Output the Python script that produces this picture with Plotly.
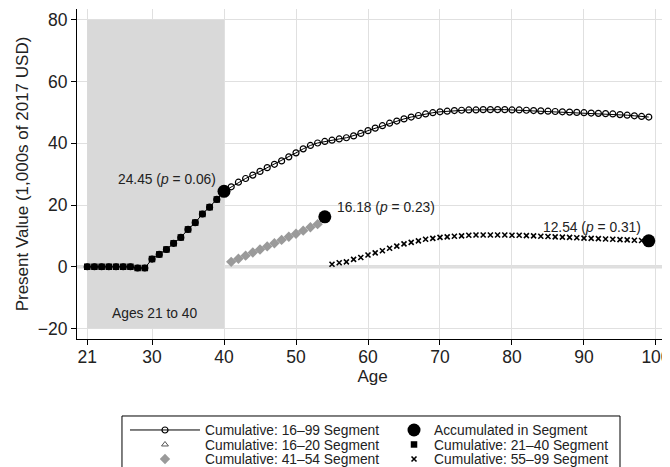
import plotly.graph_objects as go

# ---------------- data ----------------
ages_16_20 = [16, 17, 18, 19, 20]
seg_16_20 = [None, None, None, None, None]  # no visible marks in the picture

ages_21_40 = list(range(21, 41))
seg_21_40 = [0, 0, 0, 0, 0, 0, 0, -0.4, -0.4, 2.5, 4.0, 5.6, 7.6, 9.5, 12.1,
             14.3, 17.1, 19.3, 21.8, 24.45]

ages_41_54 = list(range(41, 55))
seg_41_54 = [1.6, 2.6, 3.6, 4.6, 5.6, 6.6, 7.6, 8.7, 9.7, 10.7, 11.7, 12.8,
             13.8, 16.18]

ages_55_99 = list(range(55, 100))
seg_55_99 = [0.8, 1.3, 1.6, 2.4, 3.0, 3.8, 4.5, 5.2, 6.0, 6.7, 7.4, 7.9, 8.4,
             8.9, 9.2, 9.5, 9.7, 9.9, 10.0, 10.2, 10.3, 10.3, 10.3, 10.3, 10.3,
             10.2, 10.2, 10.1, 10.0, 9.9, 9.8, 9.7, 9.6, 9.5, 9.4, 9.3, 9.2,
             9.1, 9.0, 8.9, 8.8, 8.7, 8.6, 8.5, 8.4]

ages_cum = list(range(21, 100))
cum_16_99 = seg_21_40 + [
    25.9, 27.4, 28.6, 29.7, 30.9, 32.1, 33.2, 34.3, 35.6, 36.9, 38.2, 39.3,
    40.1, 40.6, 41.0, 41.4, 41.8, 42.4, 43.2, 44.1, 44.9, 45.7, 46.5, 47.2,
    47.9, 48.5, 49.0, 49.5, 49.9, 50.2, 50.4, 50.6, 50.7, 50.8, 50.8, 50.9,
    50.9, 50.9, 50.9, 50.8, 50.8, 50.7, 50.6, 50.5, 50.4, 50.3, 50.2, 50.1,
    50.0, 49.9, 49.8, 49.7, 49.6, 49.5, 49.3, 49.1, 48.9, 48.7, 48.5]

accum_ages = [40, 54, 99]
accum_vals = [24.45, 16.18, 8.4]
accum_labels = ["24.45 (<i>p</i> = 0.06)", "16.18 (<i>p</i> = 0.23)",
                "12.54 (<i>p</i> = 0.31)"]
label_x = [39.2, 55.4, 98.2]
label_y = [28.4, 19.1, 12.8]
label_anchor = ["right", "left", "right"]

x_ticks = [21, 30, 40, 50, 60, 70, 80, 90, 100]
y_ticks = [-20, 0, 20, 40, 60, 80]

FONT = "Liberation Sans, Arial, Helvetica, sans-serif"
TXT = "#222222"

fig = go.Figure()

fig.add_trace(go.Scatter(
    x=ages_cum, y=cum_16_99, mode="lines+markers",
    name="Cumulative: 16\u201399 Segment", legend="legend",
    line=dict(color="black", width=1),
    marker=dict(symbol="circle-open", size=6, color="black",
                line=dict(width=1.2, color="black"))))
fig.add_trace(go.Scatter(
    x=ages_16_20, y=seg_16_20, mode="markers",
    name="Cumulative: 16\u201320 Segment", legend="legend3",
    marker=dict(symbol="triangle-up-open", size=6, color="#555555",
                line=dict(width=1, color="#555555"))))
fig.add_trace(go.Scatter(
    x=ages_41_54, y=seg_41_54, mode="markers",
    name="Cumulative: 41\u201354 Segment", legend="legend5",
    marker=dict(symbol="diamond", size=8, color="#9a9a9a")))
fig.add_trace(go.Scatter(
    x=ages_21_40, y=seg_21_40, mode="markers",
    name="Cumulative: 21\u201340 Segment", legend="legend4",
    marker=dict(symbol="square", size=6.5, color="black")))
fig.add_trace(go.Scatter(
    x=ages_55_99, y=seg_55_99, mode="markers",
    name="Cumulative: 55\u201399 Segment", legend="legend6",
    marker=dict(symbol="x-thin-open", size=5, color="black",
                line=dict(width=1.6, color="black"))))
fig.add_trace(go.Scatter(
    x=accum_ages, y=accum_vals, mode="markers",
    name="Accumulated in Segment", legend="legend2",
    marker=dict(symbol="circle", size=13, color="black")))

# shaded age band and zero line
fig.add_shape(type="rect", xref="x", yref="y", x0=21, x1=40, y0=-20, y1=80,
              fillcolor="#d9d9d9", line=dict(width=0), layer="between")
fig.add_shape(type="line", xref="paper", yref="y", x0=0, x1=1, y0=0, y1=0,
              line=dict(color="#dedede", width=3.5), layer="between")
# legend frame
fig.add_shape(type="rect", xref="paper", yref="paper", x0=0.0761, x1=0.9188,
              y0=-0.45, y1=-0.2333, line=dict(color="black", width=1),
              fillcolor="rgba(0,0,0,0)", layer="above")

for xv, yv, t, a in zip(label_x, label_y, accum_labels, label_anchor):
    fig.add_annotation(x=xv, y=yv, text=t, showarrow=False, xanchor=a,
                       yanchor="middle", font=dict(size=13.8, color=TXT))
fig.add_annotation(x=30.3, y=-15.1, text="Ages 21 to 40", showarrow=False,
                   xanchor="center", yanchor="middle",
                   font=dict(size=13.8, color=TXT))


def key(xv, yv, iw):
    return dict(orientation="v", x=xv, xanchor="left", y=yv,
                yanchor="middle", itemwidth=iw,
                font=dict(size=13.8, color=TXT), bgcolor="rgba(0,0,0,0)",
                borderwidth=0)


ROWS = [-0.2758, -0.3197, -0.3636]
COL1, COL2 = 0.0812, 0.5364

# the page adds an 8px body margin; figure is sized/offset to compensate
fig.update_layout(
    width=662, height=459,
    margin=dict(l=69, r=2, t=1, b=128, autoexpand=False),
    paper_bgcolor="white", plot_bgcolor="white",
    font=dict(family=FONT, color="black"),
    showlegend=True,
    legend=key(COL1, ROWS[0], 70),
    legend2=key(COL2, ROWS[0], 30),
    legend3=key(COL1, ROWS[1], 70),
    legend4=key(COL2, ROWS[1], 30),
    legend5=key(COL1, ROWS[2], 70),
    legend6=key(COL2, ROWS[2], 30),
)
fig.update_xaxes(
    range=[19.58, 101.67], tickmode="array", tickvals=x_ticks,
    showgrid=True, gridcolor="#e0e0e0", gridwidth=1, zeroline=False,
    showline=True, linecolor="black", linewidth=1, mirror=False,
    ticks="outside", ticklen=5, tickcolor="black", tickwidth=1,
    automargin=False, ticklabeloverflow="allow", ticklabelstandoff=-3,
    tickfont=dict(size=17.5, color=TXT),
    title=dict(text="Age", font=dict(size=17, color=TXT), standoff=0))
fig.update_yaxes(
    range=[-23.4, 83.5], tickmode="array", tickvals=y_ticks,
    showgrid=True, gridcolor="#e0e0e0", gridwidth=1, zeroline=False,
    showline=True, linecolor="black", linewidth=1, mirror=False,
    ticks="outside", ticklen=5, tickcolor="black", tickwidth=1,
    automargin=False, ticklabeloverflow="allow",
    tickfont=dict(size=17.5, color=TXT),
    title=dict(text="Present Value (1,000s of 2017 USD)",
               font=dict(size=17, color=TXT), standoff=4))

fig.write_html("out.html")
